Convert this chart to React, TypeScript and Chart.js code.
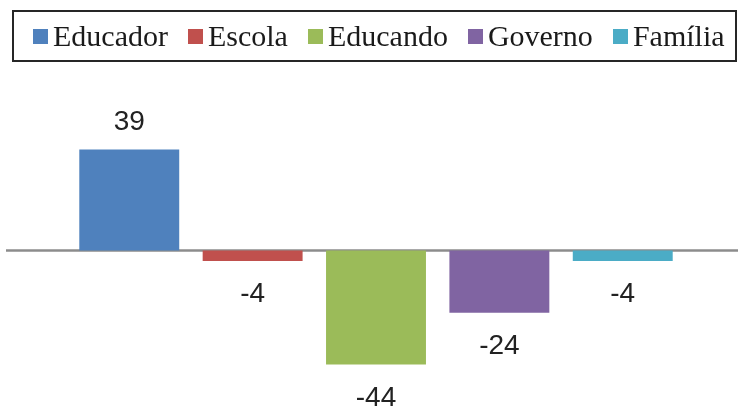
import React, { useEffect, useRef } from "react";
import { Chart, registerables } from "chart.js";

Chart.register(...registerables);

// Series names (one bar each) and their values
const seriesNames: string[] = ["Educador", "Escola", "Educando", "Governo", "Família"];
const seriesValues: number[] = [39, -4, -44, -24, -4];
const seriesColors: string[] = ["#4f81bd", "#c0504d", "#9bbb59", "#8064a2", "#4bacc6"];
const categoryLabels: string[] = [""];

// Horizontal baseline at zero, spanning nearly the whole canvas width
const zeroLinePlugin = {
  id: "zeroLine",
  beforeDatasetsDraw(chart: any) {
    const y = chart.scales.y.getPixelForValue(0);
    const ctx = chart.ctx;
    ctx.save();
    ctx.strokeStyle = "#8c8c8c";
    ctx.lineWidth = 2.5;
    ctx.beginPath();
    ctx.moveTo(6, y);
    ctx.lineTo(chart.width, y);
    ctx.stroke();
    ctx.restore();
  },
};

// Value labels above positive bars and below negative bars
const valueLabelPlugin = {
  id: "valueLabels",
  afterDatasetsDraw(chart: any) {
    const ctx = chart.ctx;
    ctx.save();
    ctx.font = '28px "Liberation Sans", Arial, sans-serif';
    ctx.fillStyle = "#222222";
    ctx.textAlign = "center";
    ctx.textBaseline = "alphabetic";
    chart.data.datasets.forEach((ds: any, i: number) => {
      const meta = chart.getDatasetMeta(i);
      meta.data.forEach((bar: any, j: number) => {
        const v = ds.data[j] as number;
        const y = v >= 0 ? bar.y - 20 : bar.y + 41;
        ctx.fillText(String(v), bar.x, y);
      });
    });
    ctx.restore();
  },
};

export default function App() {
  const canvasRef = useRef<HTMLCanvasElement | null>(null);

  useEffect(() => {
    if (!canvasRef.current) return;
    const chart = new Chart(canvasRef.current, {
      type: "bar",
      data: {
        labels: categoryLabels,
        datasets: seriesNames.map((name, i) => ({
          label: name,
          data: [seriesValues[i]],
          backgroundColor: seriesColors[i],
          borderWidth: 0,
          categoryPercentage: 0.852,
          barPercentage: 0.81,
        })),
      },
      options: {
        animation: false,
        responsive: false,
        layout: { padding: { top: 121, bottom: 2, left: 14, right: 0 } },
        plugins: {
          legend: { display: false },
          tooltip: { enabled: false },
        },
        scales: {
          x: { display: false },
          y: { display: false, min: -60, max: 50 },
        },
      },
      plugins: [zeroLinePlugin, valueLabelPlugin],
    });
    return () => chart.destroy();
  }, []);

  return (
    <div style={{ position: "absolute", left: 0, top: 0, width: 738, height: 408, background: "#ffffff" }}>
      <canvas ref={canvasRef} width={738} height={408} style={{ position: "absolute", left: 0, top: 0 }} />
      <div
        style={{
          position: "absolute",
          left: 12,
          top: 10,
          width: 725,
          height: 52,
          boxSizing: "border-box",
          border: "2px solid #262626",
          display: "flex",
          alignItems: "center",
          paddingLeft: 19,
          fontFamily: '"Liberation Serif", "Times New Roman", serif',
          fontSize: 30,
          color: "#1a1a1a",
          whiteSpace: "nowrap",
        }}
      >
        {seriesNames.map((name, i) => (
          <div
            key={name}
            style={{ display: "flex", alignItems: "center", marginRight: i < seriesNames.length - 1 ? 20 : 0 }}
          >
            <span
              style={{ display: "inline-block", width: 15, height: 15, background: seriesColors[i], marginRight: 5 }}
            />
            <span style={{ lineHeight: "30px" }}>{name}</span>
          </div>
        ))}
      </div>
    </div>
  );
}
